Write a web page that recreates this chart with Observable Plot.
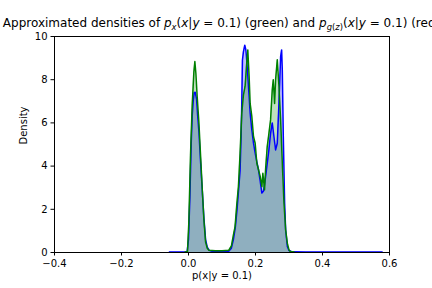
<!DOCTYPE html>
<html>
<head>
<meta charset="utf-8">
<script src="https://cdn.jsdelivr.net/npm/d3@7"></script>
<script src="https://cdn.jsdelivr.net/npm/@observablehq/plot@0.6"></script>
<style>
  body { margin: 0; background: #fff; }
  svg { font-family: "DejaVu Sans", sans-serif; }
</style>
</head>
<body>
<div id="chart"></div>
<script>
// Model density p_g(z)(x|y=0.1) (drawn blue)
const blueX = [-0.057, -0.01, -0.004, 0.000, 0.004, 0.008, 0.011, 0.014, 0.017, 0.020, 0.024, 0.027, 0.031, 0.036, 0.041, 0.046, 0.051, 0.056, 0.062, 0.070, 0.090, 0.110, 0.120, 0.128, 0.134, 0.140, 0.145, 0.150, 0.154, 0.157, 0.159, 0.161, 0.164, 0.168, 0.171, 0.173, 0.176, 0.179, 0.184, 0.189, 0.194, 0.199, 0.204, 0.209, 0.214, 0.219, 0.224, 0.229, 0.235, 0.240, 0.245, 0.250, 0.255, 0.260, 0.265, 0.270, 0.275, 0.278, 0.280, 0.283, 0.287, 0.290, 0.295, 0.300, 0.310, 0.350, 0.578];
const blueY = [0.02, 0.02, 0.05, 0.6, 2.5, 5.0, 6.3, 7.0, 7.4, 7.42, 7.1, 6.4, 5.6, 4.2, 2.9, 1.6, 0.6, 0.25, 0.1, 0.06, 0.05, 0.05, 0.06, 0.2, 0.6, 1.2, 2.0, 3.0, 3.8, 5.4, 6.9, 8.9, 9.3, 9.6, 9.4, 9.07, 8.4, 7.7, 6.45, 5.68, 5.06, 4.6, 4.2, 3.83, 3.3, 2.75, 2.85, 3.37, 4.13, 4.75, 5.52, 6.0, 5.37, 4.75, 5.06, 6.9, 9.07, 9.38, 8.46, 5.37, 2.28, 1.05, 0.28, 0.09, 0.03, 0.02, 0.02];

// Data density p_x(x|y=0.1) (green)
const greenX = [-0.010, -0.003, 0.001, 0.006, 0.011, 0.016, 0.019, 0.022, 0.026, 0.031, 0.036, 0.041, 0.046, 0.051, 0.056, 0.061, 0.080, 0.100, 0.120, 0.128, 0.134, 0.139, 0.144, 0.149, 0.154, 0.159, 0.164, 0.169, 0.173, 0.177, 0.181, 0.184, 0.189, 0.194, 0.199, 0.204, 0.209, 0.214, 0.219, 0.222, 0.225, 0.227, 0.230, 0.235, 0.240, 0.245, 0.250, 0.253, 0.257, 0.260, 0.265, 0.270, 0.275, 0.280, 0.285, 0.290, 0.295, 0.300, 0.304, 0.315];
const greenY = [0.02, 0.05, 1.4, 4.5, 6.8, 8.35, 8.84, 8.3, 7.2, 6.03, 4.5, 2.96, 1.5, 0.48, 0.2, 0.1, 0.08, 0.08, 0.1, 0.3, 0.8, 1.2, 2.2, 3.05, 4.6, 6.45, 7.3, 7.7, 8.6, 9.38, 8.15, 6.9, 6.3, 5.37, 5.06, 4.13, 3.83, 3.52, 3.05, 3.67, 3.2, 2.9, 3.83, 4.9, 5.5, 6.14, 7.53, 8.0, 6.9, 8.0, 8.92, 7.7, 6.14, 4.13, 2.28, 1.05, 0.43, 0.12, 0.05, 0.02];

const xTicks = [-0.4, -0.2, 0.0, 0.2, 0.4, 0.6];
const yTicks = [0, 2, 4, 6, 8, 10];

const blue = blueX.map((x, i) => ({x, y: blueY[i]}));
const green = greenX.map((x, i) => ({x, y: greenY[i]}));

const fmtX = d => (d < 0 ? "\u2212" : "") + Math.abs(d).toFixed(1);

const chart = Plot.plot({
  width: 432,
  height: 288,
  marginLeft: 54,
  marginRight: 43,
  marginTop: 36,
  marginBottom: 36,
  style: {fontFamily: "DejaVu Sans", fontSize: "10px", color: "#000", background: "#fff"},
  x: {domain: [-0.4, 0.6]},
  y: {domain: [0, 10]},
  marks: [
    Plot.areaY(blue, {x: "x", y: "y", fill: "blue", fillOpacity: 0.25}),
    Plot.areaY(green, {x: "x", y: "y", fill: "green", fillOpacity: 0.25}),
    Plot.line(blue, {x: "x", y: "y", stroke: "blue", strokeWidth: 1.5}),
    Plot.line(green, {x: "x", y: "y", stroke: "green", strokeWidth: 1.5}),
    Plot.frame({stroke: "#000", strokeWidth: 1}),
    Plot.axisX({ticks: xTicks, tickFormat: fmtX, tickSize: 3.5, tickPadding: 3.5, label: null, fontSize: 10, stroke: "#000", fill: "#000"}),
    Plot.axisY({ticks: yTicks, tickFormat: d => String(d), tickSize: 3.5, tickPadding: 3.5, label: null, fontSize: 10, stroke: "#000", fill: "#000"}),
    Plot.text(["p(x|y = 0.1)"], {frameAnchor: "bottom", text: d => d, dy: 26, fontSize: 10, fill: "#000"}),
    Plot.text(["Density"], {frameAnchor: "left", text: d => d, rotate: -90, dx: -31, fontSize: 10, fill: "#000"})
  ]
});

document.getElementById("chart").appendChild(chart);

// Title with mathtext-like styling
const svg = d3.select(chart);
const t = svg.append("text")
  .attr("x", 221.5)
  .attr("y", 27)
  .attr("text-anchor", "middle")
  .attr("font-family", "DejaVu Sans")
  .attr("font-size", 12)
  .attr("fill", "#000");
const parts = [
  ["Approximated densities of ", null],
  ["p", "it"], ["x", "sub-it"], ["(", null], ["x", "it"], ["|", null], ["y", "it"], [" = 0.1) (green) and ", null],
  ["p", "it"], ["g", "sub-it"], ["(", "sub"], ["z", "sub-it"], [")", "sub"],
  ["(", "back"], ["x", "it"], ["|", null], ["y", "it"], [" = 0.1) (red)", null]
];
let inSub = false;
parts.forEach(([s, kind]) => {
  const ts = t.append("tspan").text(s);
  const isSub = kind === "sub" || kind === "sub-it";
  if (kind === "it" || kind === "sub-it") ts.attr("font-style", "italic");
  if (isSub) ts.attr("font-size", 8.4);
  if (isSub && !inSub) ts.attr("dy", 2.5);
  if (!isSub && inSub) ts.attr("dy", -2.5);
  inSub = isSub;
});
</script>
</body>
</html>
